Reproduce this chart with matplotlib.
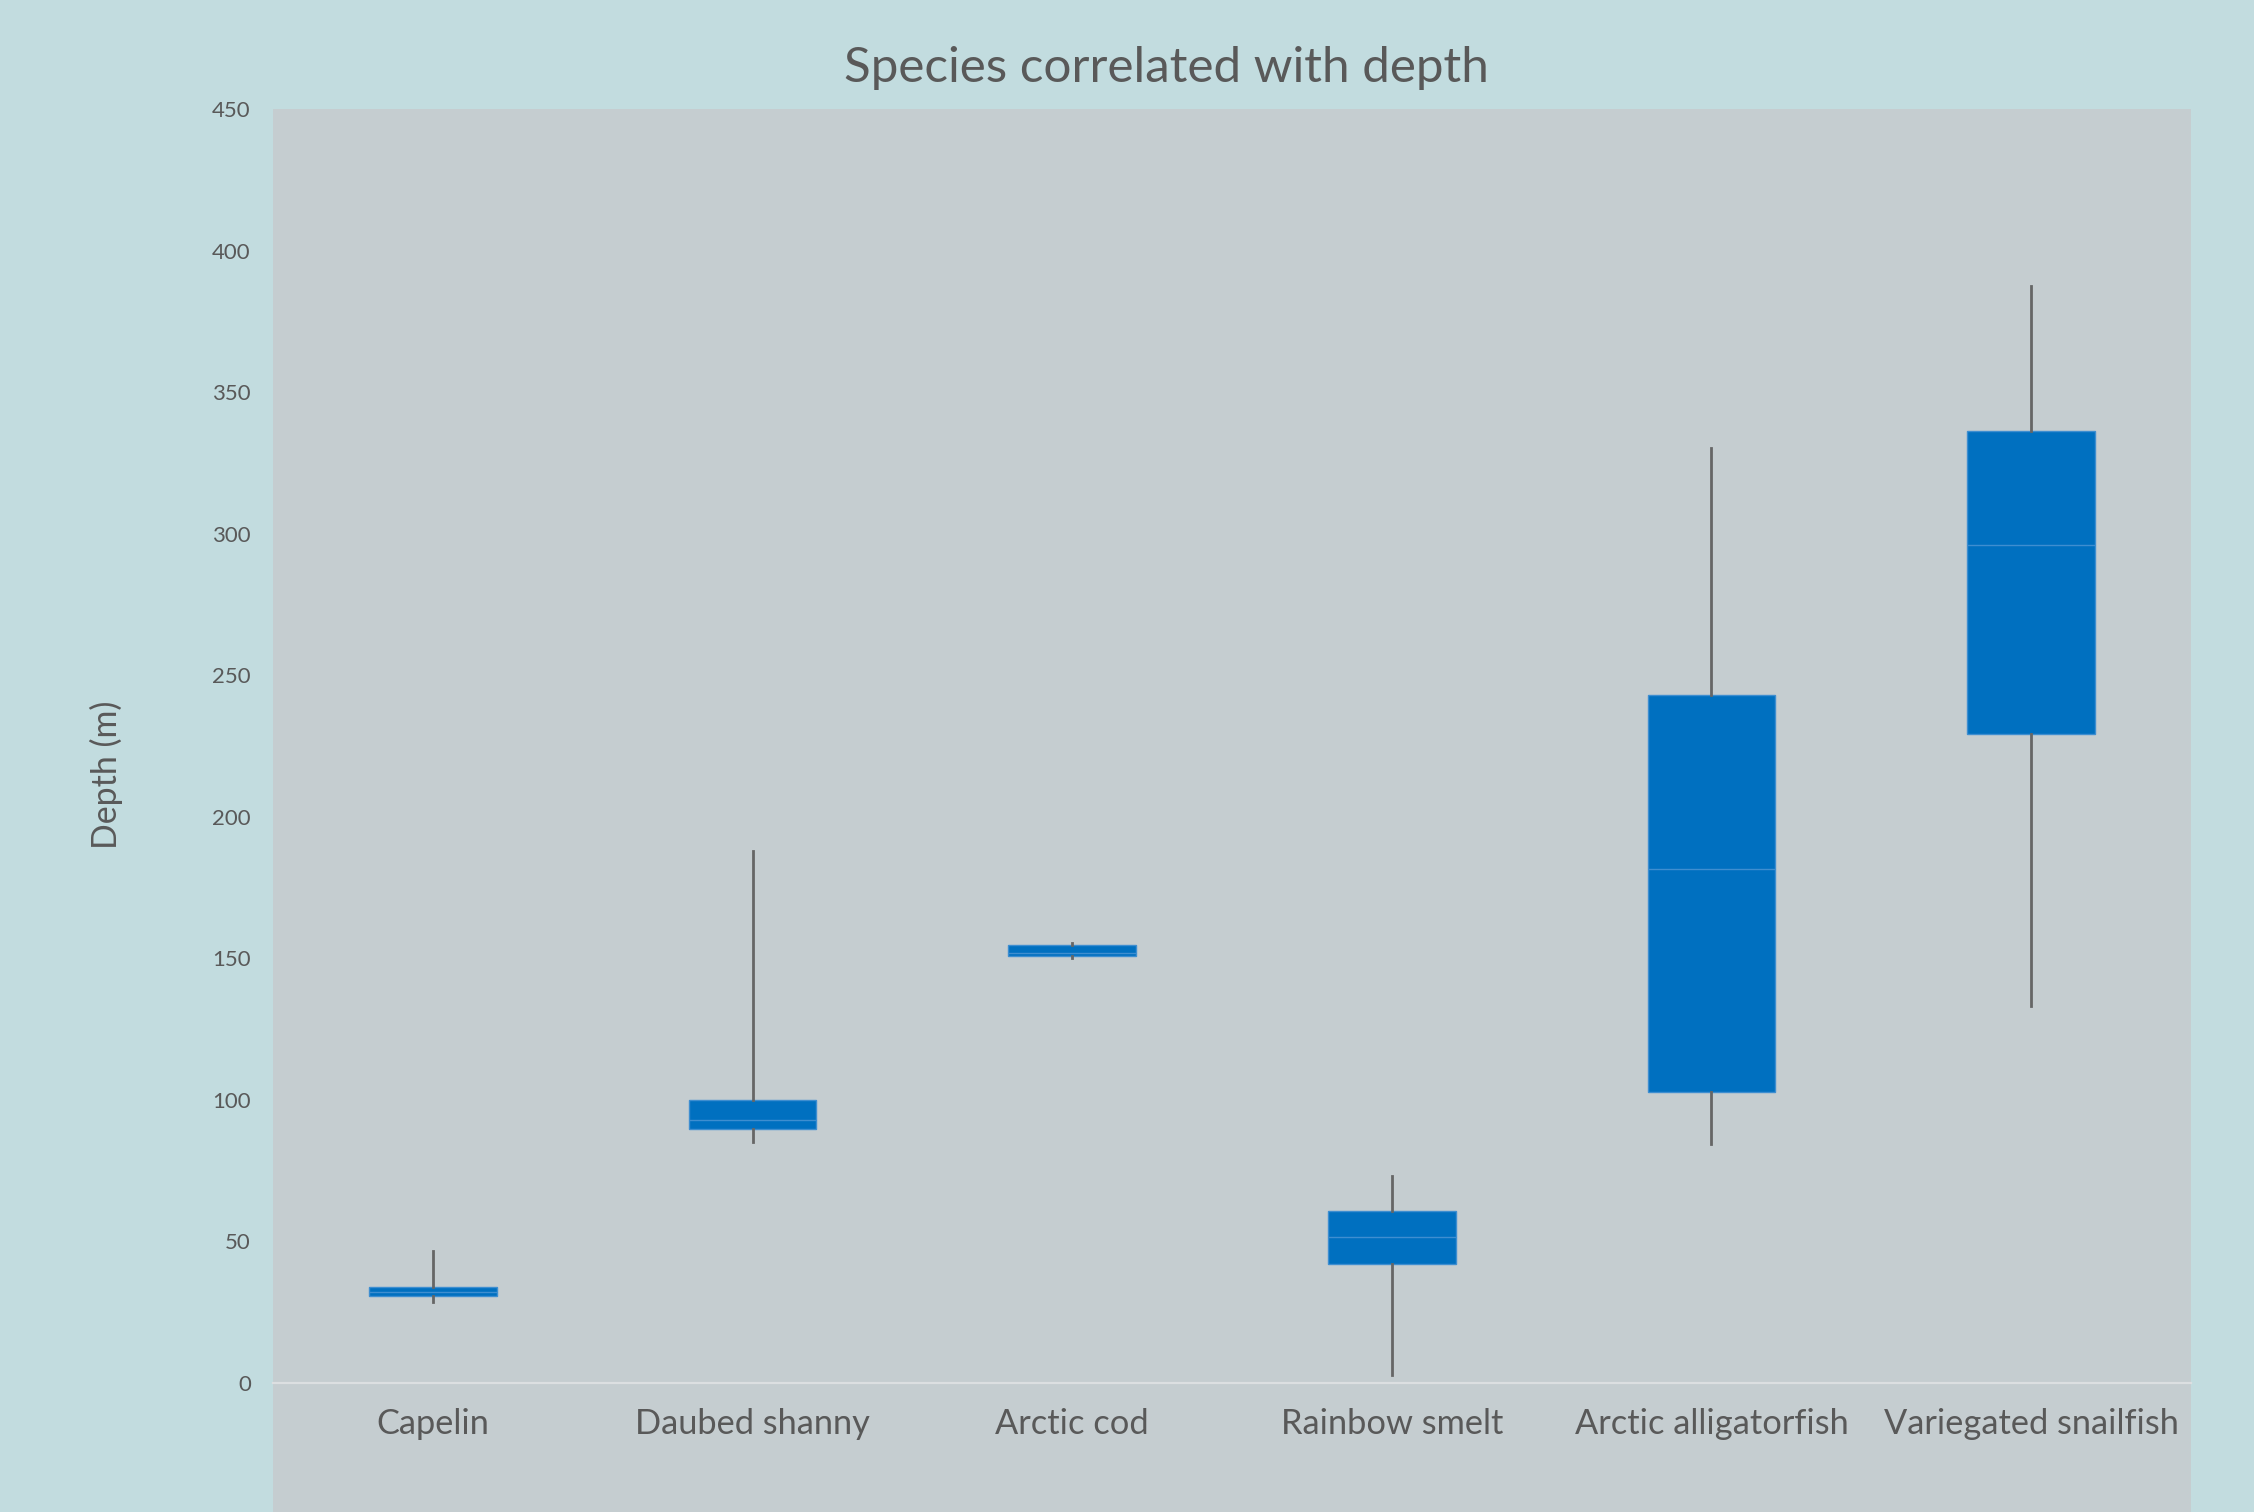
import matplotlib
matplotlib.use("Agg")
import matplotlib.pyplot as plt

# values (depth in m)
species = ["Capelin", "Daubed shanny", "Arctic cod", "Rainbow smelt",
           "Arctic alligatorfish", "Variegated snailfish"]
whisker_low = [28.7, 85.2, 150.2, 2.8, 84.3, 133.2]
q1 = [30.7, 89.7, 150.7, 42.0, 102.9, 229.1]
median = [32.3, 92.8, 151.8, 51.5, 181.5, 295.9]
q3 = [33.8, 99.9, 154.7, 60.9, 242.9, 336.4]
whisker_high = [46.6, 187.9, 155.3, 73.1, 330.2, 387.5]
y_ticks = [-50, 0, 50, 100, 150, 200, 250, 300, 350, 400, 450]

plt.rcParams['font.family'] = ['Lato', 'DejaVu Sans']
text_color = '#595959'

W, H, dpi = 2254, 1512, 200
fig = plt.figure(figsize=(W / dpi, H / dpi), dpi=dpi)
fig.patch.set_facecolor('#C2DCDF')

# plot area runs past the bottom edge of the figure, like the reference
left, right, top, bottom = 273, 2191, 109, 1524.6
ax = fig.add_axes([left / W, 1 - bottom / H, (right - left) / W, (bottom - top) / H])
ax.set_facecolor('#C5CDD0')

stats = []
for i in range(len(species)):
    stats.append({
        'whislo': whisker_low[i], 'q1': q1[i], 'med': median[i],
        'q3': q3[i], 'whishi': whisker_high[i], 'label': species[i],
    })

ax.bxp(stats, positions=range(len(species)), widths=0.4, patch_artist=True,
       showfliers=False, showcaps=False, zorder=3,
       boxprops=dict(facecolor='#0070C0', edgecolor='#3E8ED0', linewidth=0.5),
       medianprops=dict(color='#3E8ED0', linewidth=0.5),
       whiskerprops=dict(color='#666666', linewidth=1.0))

ax.set_xlim(-0.5, len(species) - 0.5)
ax.set_ylim(-50, 450)
ax.set_yticks(y_ticks)

for side in ['top', 'right', 'left']:
    ax.spines[side].set_visible(False)
ax.spines['bottom'].set_position(('data', 0))
ax.spines['bottom'].set_color('#DCDFE1')
ax.spines['bottom'].set_linewidth(0.8)
ax.spines['bottom'].set_zorder(2)

ax.tick_params(axis='x', length=0, pad=9, labelsize=12.4, labelcolor=text_color)
ax.tick_params(axis='y', length=0, pad=8, labelsize=8, labelcolor=text_color)

ax.set_ylabel('Depth (m)', fontsize=12.2, color=text_color)
ax.yaxis.set_label_coords((123 - left) / (right - left), (bottom - 775) / (bottom - top))

fig.text(1166 / W, 1 - 68 / H, 'Species correlated with depth', ha='center', va='center',
         fontsize=17.8, color=text_color)

fig.savefig('out.png', dpi=dpi, facecolor=fig.get_facecolor())
